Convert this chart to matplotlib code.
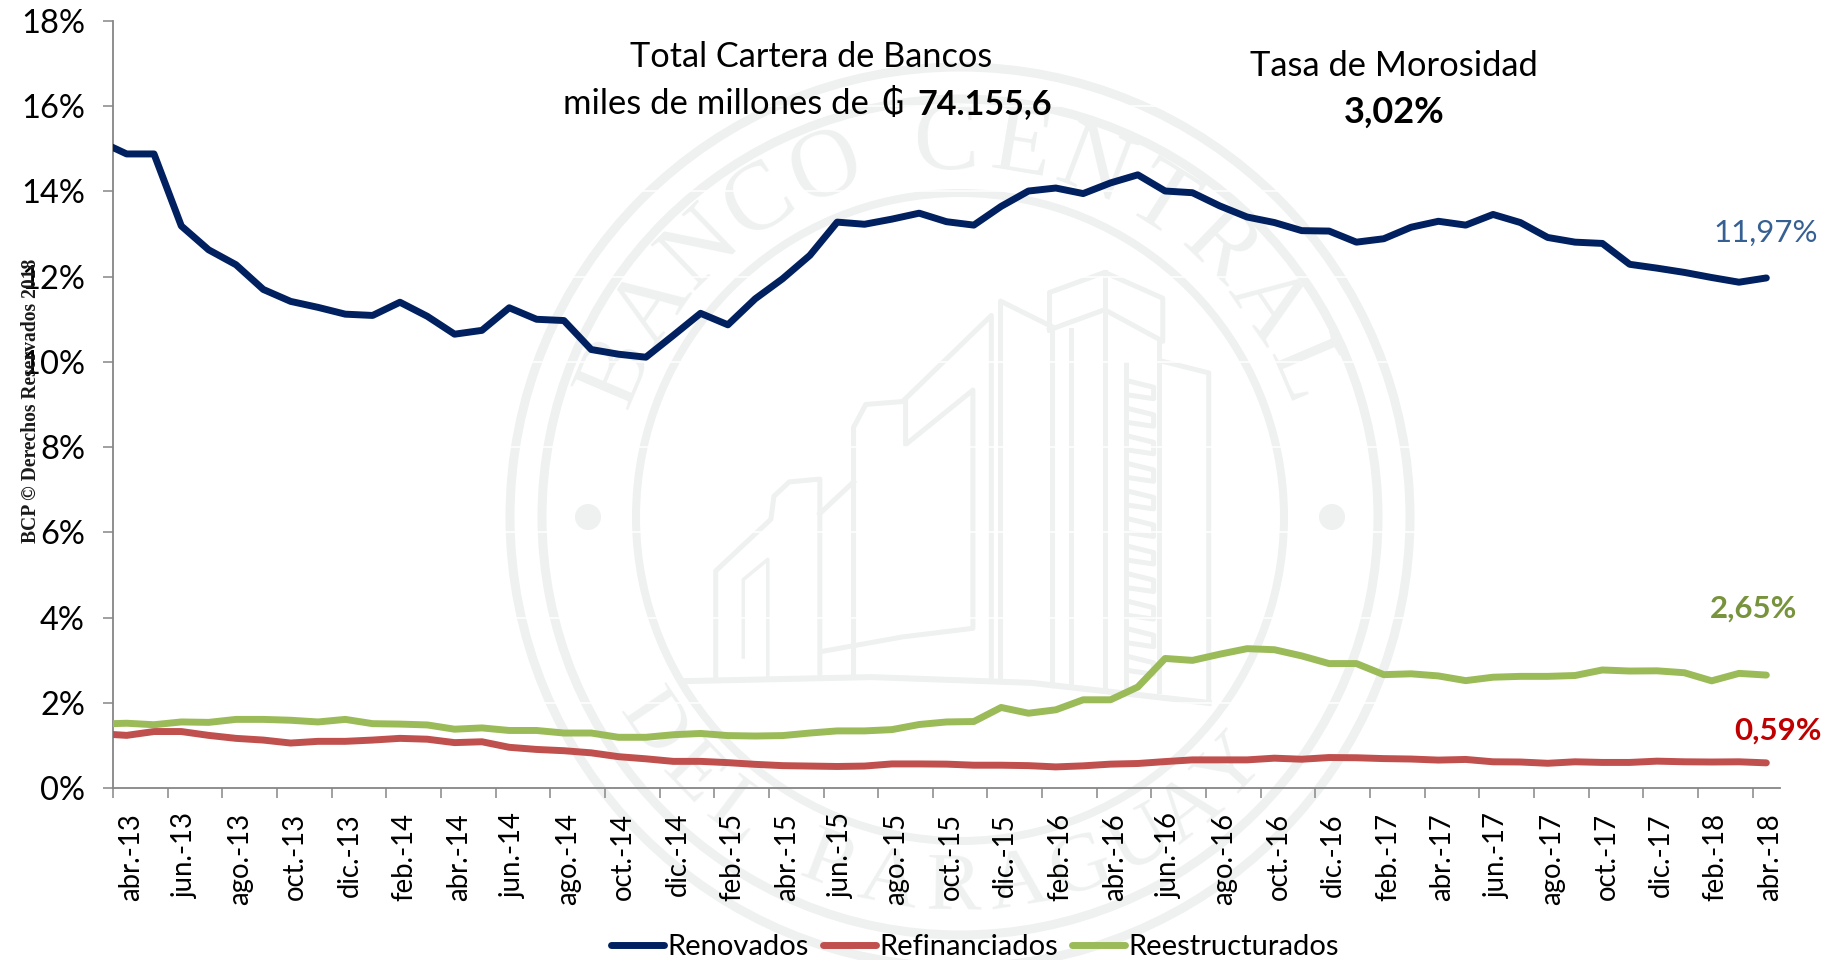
import numpy as np
import matplotlib
matplotlib.use("Agg")
import matplotlib.pyplot as plt
from matplotlib.patches import Circle
from matplotlib.transforms import ScaledTranslation

# -------------------------
# Data
# -------------------------
# one month per value, the first one (mar.-13) is cut off by the axis
renovados = [15.18, 14.88, 14.88, 13.19, 12.63, 12.28, 11.70, 11.42, 11.28, 11.12, 11.09,
             11.40, 11.07, 10.65, 10.74, 11.27, 11.00, 10.97, 10.29, 10.18, 10.11,
             10.62, 11.14, 10.87, 11.48, 11.95, 12.50, 13.28, 13.23, 13.35, 13.49,
             13.29, 13.21, 13.65, 14.01, 14.08, 13.95, 14.20, 14.39, 14.01, 13.97,
             13.66, 13.40, 13.27, 13.08, 13.07, 12.81, 12.89, 13.16, 13.30, 13.21,
             13.46, 13.27, 12.92, 12.81, 12.78, 12.29, 12.20, 12.10, 11.98, 11.87, 11.97]

refinanciados = [1.275, 1.235, 1.325, 1.325, 1.235, 1.165, 1.125, 1.055, 1.095, 1.095, 1.125,
                 1.165, 1.145, 1.065, 1.085, 0.955, 0.905, 0.875, 0.825, 0.735, 0.685,
                 0.625, 0.625, 0.595, 0.555, 0.525, 0.515, 0.505, 0.515, 0.565, 0.565,
                 0.56, 0.535, 0.535, 0.525, 0.495, 0.52, 0.56, 0.575, 0.62, 0.66,
                 0.66, 0.66, 0.70, 0.675, 0.715, 0.71, 0.69, 0.68, 0.655, 0.67,
                 0.615, 0.61, 0.58, 0.615, 0.60, 0.60, 0.63, 0.615, 0.61, 0.615, 0.59]

reestructurados = [1.50, 1.52, 1.485, 1.55, 1.54, 1.61, 1.61, 1.59, 1.55, 1.61, 1.51,
                   1.50, 1.48, 1.38, 1.41, 1.35, 1.35, 1.29, 1.29, 1.19, 1.19,
                   1.25, 1.28, 1.23, 1.22, 1.23, 1.29, 1.34, 1.34, 1.37, 1.49,
                   1.55, 1.56, 1.89, 1.755, 1.835, 2.07, 2.07, 2.37, 3.04, 2.995,
                   3.14, 3.27, 3.245, 3.10, 2.92, 2.92, 2.66, 2.68, 2.63, 2.52,
                   2.60, 2.62, 2.62, 2.64, 2.77, 2.745, 2.75, 2.705, 2.515, 2.69, 2.65]

month_labels = ["abr.-13", "jun.-13", "ago.-13", "oct.-13", "dic.-13",
                "feb.-14", "abr.-14", "jun.-14", "ago.-14", "oct.-14", "dic.-14",
                "feb.-15", "abr.-15", "jun.-15", "ago.-15", "oct.-15", "dic.-15",
                "feb.-16", "abr.-16", "jun.-16", "ago.-16", "oct.-16", "dic.-16",
                "feb.-17", "abr.-17", "jun.-17", "ago.-17", "oct.-17", "dic.-17",
                "feb.-18", "abr.-18"]
y_ticks = [0, 2, 4, 6, 8, 10, 12, 14, 16, 18]

W, H = 1837, 960
plt.rcParams["font.family"] = ["Lato", "DejaVu Sans"]
fig = plt.figure(figsize=(W / 100, H / 100), dpi=100)
fig.patch.set_facecolor("white")


def fx(x):
    return x / W


def fy(y):
    return 1 - y / H


# -------------------------
# Seal behind the chart
# -------------------------
seal_color = "#eef1f0"
seal = fig.add_axes([0, 0, 1, 1], zorder=0)
seal.set_xlim(0, W)
seal.set_ylim(H, 0)
seal.axis("off")

cx, cy = 960, 517
for r, w in [(450, 9), (418, 9), (324, 8)]:
    seal.add_patch(Circle((cx, cy), r, fill=False, ec=seal_color, lw=w * 0.72))
for dot_x in [588, 1332]:
    seal.add_patch(Circle((dot_x, cy), 13, fc=seal_color, ec="none"))

top_angles = [-67, -55.5, -44, -32.5, -21, -2, 9.5, 21, 32.5, 44, 55.5, 67]
for letter, t in zip("BANCOCENTRAL", top_angles):
    a = np.radians(t)
    seal.text(cx + 372 * np.sin(a), cy - 372 * np.cos(a), letter, rotation=-t,
              rotation_mode="anchor", ha="center", va="center", color=seal_color,
              family="Liberation Serif", fontsize=70)
bottom_angles = [-56, -46, -37, -21, -11, -1, 9, 19, 29, 38, 47, 55]
for letter, t in zip("DELPARAGUAY", bottom_angles):
    a = np.radians(t)
    seal.text(cx + 372 * np.sin(a), cy + 372 * np.cos(a), letter, rotation=t,
              rotation_mode="anchor", ha="center", va="center", color=seal_color,
              family="Liberation Serif", fontsize=60)


def sketch(points, lw=3.5):
    xs = [480 + p[0] / 1.633 for p in points]
    ys = [60 + p[1] / 1.742 for p in points]
    seal.plot(xs, ys, color=seal_color, lw=lw * 0.72, solid_joinstyle="round")


sketch([(335, 1082), (640, 1075), (900, 1085), (1190, 1120)], lw=6)
sketch([(385, 1075), (385, 890), (475, 800), (480, 760), (505, 735), (555, 730), (555, 1070)], lw=5)
sketch([(430, 1040), (430, 905), (470, 870), (470, 1075)])
sketch([(555, 790), (610, 735)], lw=5)
sketch([(560, 1030), (690, 1005), (805, 990), (805, 575), (695, 670), (695, 595)], lw=5)
sketch([(610, 1070), (610, 640), (630, 600), (690, 595), (835, 445), (835, 1082)], lw=5)
sketch([(850, 1082), (850, 420), (935, 465), (935, 1090)], lw=5)
sketch([(930, 470), (930, 405), (1020, 370), (1115, 415), (1115, 490), (1020, 435), (930, 470)], lw=5)
sketch([(1020, 370), (1020, 1100)], lw=5)
sketch([(965, 470), (965, 1090)], lw=5)
sketch([(1115, 525), (1190, 545), (1190, 1118)], lw=5)
sketch([(1055, 530), (1055, 1095)], lw=5)
sketch([(1108, 490), (1108, 1100)], lw=5)
for rung in range(560, 1080, 48):
    sketch([(1062, rung), (1100, rung + 10), (1100, rung + 30), (1062, rung + 24)], lw=5)

# -------------------------
# Chart
# -------------------------
left, right, top, bottom = 113, 1780, 21, 788
ax = fig.add_axes([fx(left), fy(bottom), (right - left) / W, (bottom - top) / H], zorder=1)
ax.patch.set_visible(False)

x = np.arange(-1, 61)
line_w = 5.0
ax.plot(x, renovados, color="#002060", lw=line_w, solid_capstyle="round", label="Renovados", zorder=3)
ax.plot(x, refinanciados, color="#C0504D", lw=line_w, solid_capstyle="round", label="Refinanciados", zorder=3)
ax.plot(x, reestructurados, color="#9BBB59", lw=line_w, solid_capstyle="round", label="Reestructurados", zorder=3)

ax.set_xlim(-0.5, 60.5)
ax.set_ylim(0, 18)

for side in ["top", "right"]:
    ax.spines[side].set_visible(False)
for side in ["left", "bottom"]:
    ax.spines[side].set_color("#868686")
    ax.spines[side].set_linewidth(1.3)

ax.set_yticks(y_ticks, [f"{v}%" for v in y_ticks])
ax.tick_params(axis="y", length=7.2, width=1.1, color="#868686", labelsize=23.5, pad=13, labelcolor="black")
ax.grid(axis="y", color="white", lw=1.1, zorder=1)
ax.set_axisbelow(True)

# tick marks sit between the months, labels on the months
ax.set_xticks(np.arange(-0.5, 60, 2))
ax.set_xticklabels([])
ax.tick_params(axis="x", which="major", length=7.2, width=1.1, color="#868686")
ax.set_xticks(np.arange(0, 61, 2), month_labels, minor=True, rotation=90)
ax.tick_params(axis="x", which="minor", length=0, labelsize=19.8, pad=18, labelcolor="black")
nudge = ScaledTranslation(3 / 72, 0, fig.dpi_scale_trans)
for lbl in ax.get_xticklabels(minor=True):
    lbl.set_transform(lbl.get_transform() + nudge)

leg = ax.legend(loc="center", bbox_to_anchor=(fx(975), fy(947)), bbox_transform=fig.transFigure,
                ncol=3, frameon=False, fontsize=21, handlelength=1.8, handletextpad=0.12,
                columnspacing=0.5, borderpad=0)

# -------------------------
# Text
# -------------------------
fig.text(fx(811), fy(57), "Total Cartera de Bancos", ha="center", va="center", fontsize=24.7)
fig.text(fx(563), fy(104), "miles de millones de", ha="left", va="center", fontsize=24.9)
fig.text(fx(881), fy(104), "₲", ha="left", va="center", fontsize=25, family="DejaVu Sans")
fig.text(fx(917), fy(104), "74.155,6", ha="left", va="center", fontsize=24.5, fontweight="bold")
fig.text(fx(1394), fy(66), "Tasa de Morosidad", ha="center", va="center", fontsize=24.8)
fig.text(fx(1394), fy(112), "3,02%", ha="center", va="center", fontsize=26, fontweight="bold")

fig.text(fx(1766), fy(233), "11,97%", ha="center", va="center", fontsize=22.5, color="#376092")
fig.text(fx(1754), fy(609), "2,65%", ha="center", va="center", fontsize=22.5, color="#77933C", fontweight="bold")
fig.text(fx(1778), fy(731), "0,59%", ha="center", va="center", fontsize=22.5, color="#C00000", fontweight="bold")

fig.text(fx(31), fy(401), "BCP © Derechos Reservados 2018", rotation=90, ha="center", va="center",
         family="Liberation Serif", fontweight="bold", fontsize=14.1, color="#1a1a1a")

fig.savefig("out.png", dpi=100, facecolor="white")
